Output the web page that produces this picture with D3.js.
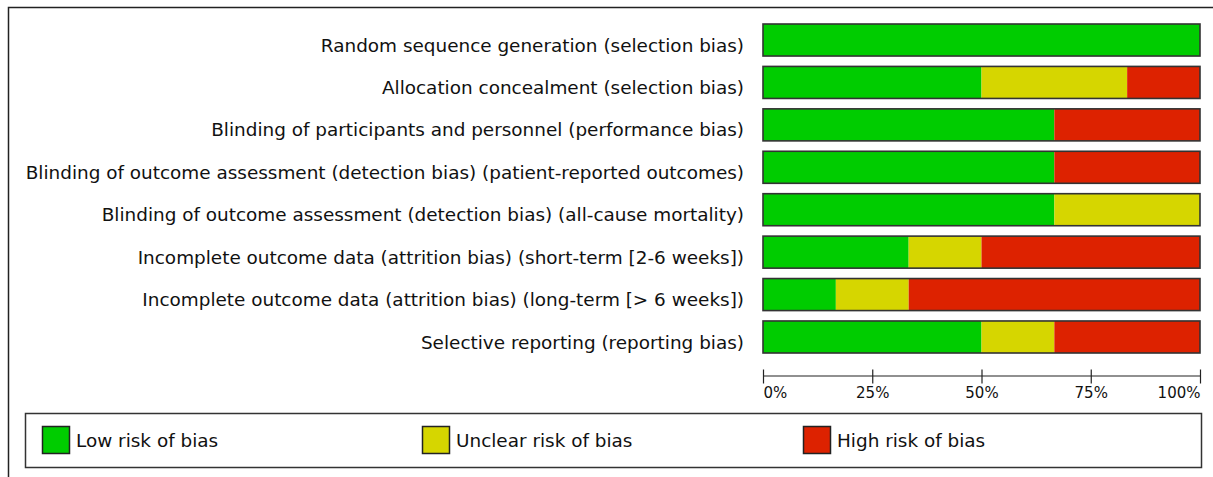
<!DOCTYPE html>
<html><head><meta charset="utf-8">
<script src="https://cdn.jsdelivr.net/npm/d3@7"></script>
<style>body{margin:0;background:#fff}svg{display:block}</style>
</head><body>
<svg id="c" width="1213" height="477"></svg>
<script>
const categories = [
  "Random sequence generation (selection bias)",
  "Allocation concealment (selection bias)",
  "Blinding of participants and personnel (performance bias)",
  "Blinding of outcome assessment (detection bias) (patient-reported outcomes)",
  "Blinding of outcome assessment (detection bias) (all-cause mortality)",
  "Incomplete outcome data (attrition bias) (short-term [2-6 weeks])",
  "Incomplete outcome data (attrition bias) (long-term [> 6 weeks])",
  "Selective reporting (reporting bias)"
];
const lowRisk     = [100, 50, 66.67, 66.67, 66.67, 33.33, 16.67, 50];
const unclearRisk = [0, 33.33, 0, 0, 33.33, 16.67, 16.67, 16.67];
const highRisk    = [0, 16.67, 33.33, 33.33, 0, 50, 66.67, 33.33];
const tickValues = [0, 25, 50, 75, 100];
const tickLabels = ["0%", "25%", "50%", "75%", "100%"];
const seriesNames = ["Low risk of bias", "Unclear risk of bias", "High risk of bias"];
const colors = ["#00cc00", "#d6d600", "#dd2200"];

const svg = d3.select("#c");
const font = "'DejaVu Sans', Verdana, sans-serif";

// outer frame
svg.append("path").attr("d", "M8.5,477 V7.5 H1213").attr("fill","none").attr("stroke","#222").attr("stroke-width",1.5);

const x = d3.scaleLinear().domain([0,100]).range([763,1200]);
const y = d3.scaleBand().domain(categories).range([24, 353]).paddingInner(0.245).paddingOuter(0);

const stacked = categories.map((c,i)=>{
  const vals=[lowRisk[i],unclearRisk[i],highRisk[i]];
  let acc=0; return vals.map((v,k)=>{const s={cat:c,k,x0:acc,x1:acc+v}; acc+=v; return s;});
});

const rows = svg.append("g").selectAll("g").data(stacked).join("g");
rows.selectAll("rect.seg").data(d=>d.filter(s=>s.x1>s.x0)).join("rect")
  .attr("class","seg")
  .attr("x",d=>x(d.x0)).attr("width",d=>x(d.x1)-x(d.x0))
  .attr("y",d=>y(d.cat)).attr("height",y.bandwidth())
  .attr("fill",d=>colors[d.k]);
rows.append("rect")
  .attr("x",x(0)).attr("width",x(100)-x(0))
  .attr("y",d=>y(d[0].cat)).attr("height",y.bandwidth())
  .attr("fill","none").attr("stroke","#333").attr("stroke-width",1.6);

const labels = svg.append("g").selectAll("text").data(categories).join("text")
  .attr("x",744).attr("y",d=>y(d)+y.bandwidth()/2 + 5)
  .attr("dy","0.36em").attr("text-anchor","end")
  .attr("font-family",font).attr("font-size",17).attr("fill","#111")
  .text(d=>d);
// fit longest label to the reference span (~719px)
const widest = d3.max(labels.nodes(), n=>n.getComputedTextLength());
const labelSize = 17*719/widest;
labels.attr("font-size",labelSize);

// axis
const axisG = svg.append("g").attr("transform","translate(0,375.5)");
axisG.call(d3.axisBottom(x).tickValues(tickValues).tickSize(0).tickFormat((d,i)=>tickLabels[i]));
axisG.select(".domain").attr("stroke","#222").attr("stroke-width",1.2);
axisG.selectAll(".tick").append("line").attr("y1",-6).attr("y2",8).attr("stroke","#222").attr("stroke-width",1.2);
axisG.selectAll(".tick text").attr("font-family",font).attr("font-size",15).attr("fill","#111").attr("y",12)
  .attr("text-anchor",(d,i)=> i===0?"start":(i===tickValues.length-1?"end":"middle"));

// legend
svg.append("rect").attr("x",25.5).attr("y",413.5).attr("width",1176).attr("height",54)
  .attr("fill","none").attr("stroke","#333").attr("stroke-width",1.5);
const legX = [42, 422, 803];
const lg = svg.append("g").selectAll("g").data(seriesNames).join("g")
  .attr("transform",(d,i)=>`translate(${legX[i]},426)`);
lg.append("rect").attr("x",0.5).attr("y",0.5).attr("width",27).attr("height",27)
  .attr("fill",(d,i)=>colors[i]).attr("stroke","#222").attr("stroke-width",1.5);
lg.append("text").attr("x",34).attr("y",14).attr("dy","0.36em")
  .attr("font-family",font).attr("font-size",labelSize).attr("fill","#111").text(d=>d);
</script>
</body></html>
